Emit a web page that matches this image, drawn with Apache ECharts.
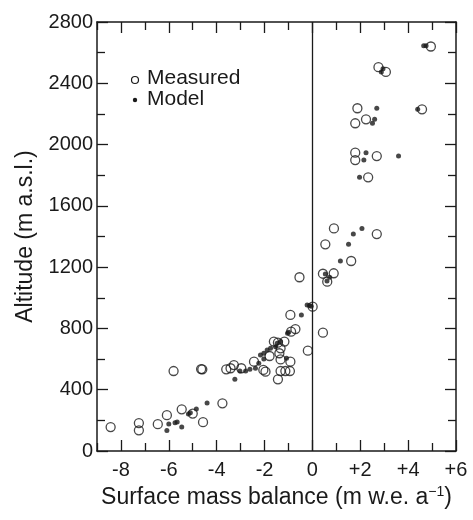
<!DOCTYPE html>
<html>
<head>
<meta charset="utf-8">
<script src="https://cdn.jsdelivr.net/npm/echarts@6/dist/echarts.min.js"></script>
<style>
  html, body { margin: 0; padding: 0; background: #fff; }
  #chart { width: 473px; height: 520px; }
</style>
</head>
<body>
<div id="chart"></div>
<script>
// Surface mass balance (m w.e. per year) versus altitude (m a.s.l.)
const measured = [
  [4.95, 2640], [2.76, 2505], [3.07, 2474], [1.88, 2237], [4.58, 2230],
  [1.79, 2139], [2.24, 2165], [1.79, 1947], [1.79, 1899], [2.69, 1925],
  [2.33, 1786], [0.90, 1453], [2.69, 1416], [0.54, 1349], [1.62, 1240],
  [-0.54, 1134], [0.44, 1157], [0.89, 1160], [0.62, 1105], [0.01, 942],
  [-0.92, 888], [-0.71, 796], [-0.89, 779], [0.44, 772], [-0.19, 655],
  [-1.61, 714], [-1.44, 707], [-1.17, 714], [-1.33, 670], [-1.38, 638],
  [-1.79, 620], [-1.33, 598], [-0.92, 583], [-2.44, 583], [-2.05, 529],
  [-1.96, 518], [-1.33, 522], [-1.13, 522], [-0.94, 522], [-1.44, 468],
  [-3.28, 561], [-3.42, 540], [-3.60, 533], [-2.97, 540], [-4.60, 533],
  [-3.76, 311], [-8.43, 156], [-7.25, 182], [-7.25, 135], [-6.46, 175],
  [-6.08, 234], [-5.46, 272], [-5.00, 244], [-4.57, 188], [-5.80, 522],
  [-4.65, 535]
];
const model = [
  [4.65, 2645], [4.75, 2645], [2.88, 2474], [2.95, 2495], [2.69, 2237],
  [4.40, 2230], [2.60, 2165], [2.51, 2139], [2.24, 1947], [2.15, 1899],
  [3.60, 1925], [1.97, 1786], [2.07, 1453], [1.71, 1416], [1.51, 1349],
  [1.17, 1240], [0.54, 1155], [0.72, 1134], [0.61, 1110], [-0.22, 953],
  [-0.12, 950], [-0.05, 945], [-0.46, 888], [-0.99, 775], [-1.04, 768],
  [-1.08, 605], [-3.03, 522], [-2.79, 522], [-2.61, 533], [-2.38, 540],
  [-2.24, 572], [-2.17, 627], [-2.03, 638], [-1.89, 659], [-1.75, 670],
  [-1.54, 681], [-1.47, 703], [-1.33, 714], [-2.03, 600], [-3.24, 468],
  [-4.40, 313], [-6.08, 133], [-6.00, 176], [-5.74, 185], [-5.65, 189],
  [-5.46, 156], [-5.18, 241], [-5.10, 250], [-4.85, 274]
];
const xMajorTicks = [-8, -6, -4, -2, 0, 2, 4, 6];
const xMinorTicks = [-9, -7, -5, -3, -1, 1, 3, 5];
const xRange = [-9, 6];
const yRange = [0, 2800];
const yStep = 400;

const FONT = 'Liberation Sans, Arial, Helvetica, sans-serif';
const INK = '#1a1a1a';

const chart = echarts.init(document.getElementById('chart'), null, { renderer: 'canvas' });

function xAxisDef(pos, ticks, len, showLabel, showLine, name) {
  return {
    type: 'value', position: pos, min: xRange[0], max: xRange[1],
    gridIndex: 0,
    axisLine: { show: showLine, onZero: false, lineStyle: { color: INK, width: 1.5 } },
    axisTick: { show: true, inside: true, length: len, customValues: ticks,
                lineStyle: { color: INK, width: 1.3 } },
    axisLabel: showLabel ? {
      show: true, customValues: xMajorTicks, margin: 9,
      fontFamily: FONT, fontSize: 20, color: INK,
      formatter: v => v > 0 ? '+' + v : String(v)
    } : { show: false },
    splitLine: { show: false },
    name: name || '',
    nameLocation: 'middle', nameGap: 34,
    nameTextStyle: {
      fontFamily: FONT, fontSize: 23, color: INK,
      rich: { sup: { fontFamily: FONT, fontSize: 14, color: INK, verticalAlign: 'top', padding: [0, 0, 11, 0] } }
    }
  };
}

function yAxisDef(pos, showLabel, name) {
  return {
    type: 'value', position: pos, min: yRange[0], max: yRange[1], interval: yStep,
    axisLine: { show: true, onZero: false, lineStyle: { color: INK, width: 1.5 } },
    axisTick: { show: true, inside: true, length: 11, lineStyle: { color: INK, width: 1.3 } },
    minorTick: { show: true, splitNumber: 2, length: 8, lineStyle: { color: INK, width: 1.3 } },
    axisLabel: showLabel ? {
      show: true, margin: 4, fontFamily: FONT, fontSize: 20, color: INK,
      formatter: v => String(v)
    } : { show: false },
    splitLine: { show: false },
    minorSplitLine: { show: false },
    name: name || '',
    nameLocation: 'middle', nameGap: 55,
    nameTextStyle: { fontFamily: FONT, fontSize: 23, color: INK }
  };
}

chart.setOption({
  animation: false,
  backgroundColor: '#ffffff',
  grid: { left: 97, right: 17, top: 22, bottom: 69, containLabel: false },
  xAxis: [
    xAxisDef('bottom', xMajorTicks, 11, true, true, 'Surface mass balance (m w.e. a{sup|\u22121})'),
    xAxisDef('bottom', xMinorTicks, 8, false, false),
    xAxisDef('top', xMajorTicks, 11, false, true),
    xAxisDef('top', xMinorTicks, 8, false, false)
  ],
  yAxis: [
    yAxisDef('left', true, 'Altitude (m a.s.l.)'),
    yAxisDef('right', false)
  ],
  series: [
    {
      name: 'Measured', type: 'scatter', xAxisIndex: 0, yAxisIndex: 0,
      symbol: 'circle', symbolSize: 9,
      itemStyle: { color: 'rgba(0,0,0,0)', borderColor: INK, borderWidth: 1.3 },
      data: measured,
      markLine: {
        silent: true, symbol: 'none', label: { show: false },
        lineStyle: { color: INK, width: 1.3, type: 'solid' },
        data: [{ xAxis: 0 }]
      }
    },
    {
      name: 'Model', type: 'scatter', xAxisIndex: 0, yAxisIndex: 0,
      symbol: 'circle', symbolSize: 5,
      itemStyle: { color: INK, borderWidth: 0 },
      data: model
    }
  ],
  graphic: [
    { type: 'circle', shape: { cx: 135, cy: 80, r: 3.5 },
      style: { fill: 'none', stroke: INK, lineWidth: 1.2 } },
    { type: 'text', x: 147, y: 78,
      style: { text: 'Measured', fontFamily: FONT, fontSize: 21, fill: INK, textVerticalAlign: 'middle' } },
    { type: 'circle', shape: { cx: 135, cy: 100, r: 2.2 },
      style: { fill: INK } },
    { type: 'text', x: 147, y: 99,
      style: { text: 'Model', fontFamily: FONT, fontSize: 21, fill: INK, textVerticalAlign: 'middle' } }
  ]
});
</script>
</body>
</html>
